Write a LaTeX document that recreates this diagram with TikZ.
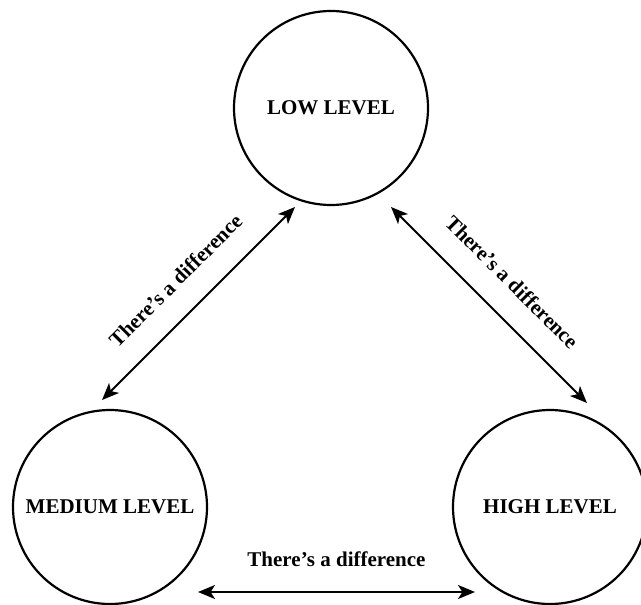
\documentclass[tikz,border=0pt]{standalone}
\usepackage{fontspec}
\setmainfont{Liberation Serif}
\usetikzlibrary{arrows.meta}

\begin{document}
\begin{tikzpicture}[x=0.5pt,y=-0.5pt,
  level/.style={draw, circle, line width=1.1pt, minimum size=97pt, inner sep=0pt, font=\bfseries\fontsize{10.5}{12}\selectfont},
  diff/.style={line width=1pt, {Stealth[length=8.5pt,width=7pt,inset=2.2pt]}-{Stealth[length=8.5pt,width=7pt,inset=2.2pt]}},
  difflabel/.style={midway, sloped, above=12pt, inner sep=0pt, font=\bfseries\fontsize{10.5}{12}\selectfont}]
\useasboundingbox (0,0) rectangle (641,604);
% the three levels
\node[level] (low) at (331,108) {LOW LEVEL};
\node[level] (medium) at (110,507) {MEDIUM LEVEL};
\node[level] (high) at (550,507) {HIGH LEVEL};
% arrow ends
\coordinate (lowL) at ([shift={(-36,99)}]low.center);
\coordinate (lowR) at ([shift={(60,99)}]low.center);
\coordinate (mediumT) at ([shift={(-8,-107)}]medium.center);
\coordinate (mediumR) at ([shift={(88,85)}]medium.center);
\coordinate (highT) at ([shift={(37,-104)}]high.center);
\coordinate (highL) at ([shift={(-75,85)}]high.center);
\draw[diff] (mediumT) -- (lowL) node[difflabel] {There's a difference};
\draw[diff] (lowR) -- (highT) node[difflabel] {There's a difference};
\draw[diff] (mediumR) -- (highL) node[difflabel] {There's a difference};
\end{tikzpicture}
\end{document}
